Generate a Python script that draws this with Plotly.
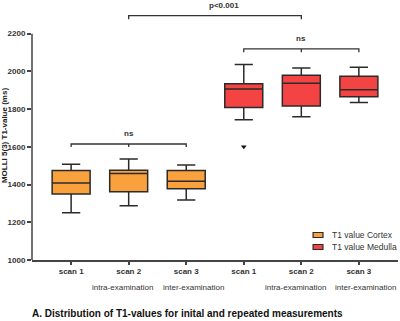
import plotly.graph_objects as go

# ---- data ----
categories = ["scan 1", "scan 2", "scan 3"]
second_row = ["", "intra-examination", "inter-examination"]

cortex_lower = [1250, 1287, 1318]
cortex_q1 = [1350, 1362, 1378]
cortex_median = [1408, 1458, 1417]
cortex_q3 = [1475, 1476, 1474]
cortex_upper = [1508, 1535, 1503]

medulla_lower = [1743, 1760, 1835]
medulla_q1 = [1808, 1817, 1865]
medulla_median = [1907, 1937, 1903]
medulla_q3 = [1934, 1980, 1974]
medulla_upper = [2036, 2018, 2022]

outlier_x = [3]
outlier_y = [1601]

yticks = [1000, 1200, 1400, 1600, 1800, 2000, 2200]
series_names = ["T1 value Cortex", "T1 value Medulla"]

cortex_x = [0, 1, 2]
medulla_x = [3, 4, 5]

ORANGE = "#F9A13D"
RED = "#F44343"
LINE = "#2b2b2b"
FONT = "Arial, Liberation Sans, sans-serif"

fig = go.Figure()
fig.add_trace(go.Box(
    name=series_names[0], x=cortex_x,
    q1=cortex_q1, median=cortex_median, q3=cortex_q3,
    lowerfence=cortex_lower, upperfence=cortex_upper,
    fillcolor=ORANGE, line=dict(color=LINE, width=1.5),
    width=0.66, whiskerwidth=0.48, boxpoints=False, showlegend=False,
))
fig.add_trace(go.Box(
    name=series_names[1], x=medulla_x,
    q1=medulla_q1, median=medulla_median, q3=medulla_q3,
    lowerfence=medulla_lower, upperfence=medulla_upper,
    fillcolor=RED, line=dict(color=LINE, width=1.5),
    width=0.66, whiskerwidth=0.48, boxpoints=False, showlegend=False,
))
fig.add_trace(go.Scatter(
    x=outlier_x, y=outlier_y, mode="markers", showlegend=False,
    marker=dict(symbol="triangle-down", size=5, color="#111111"),
))

# y axis line only up to 2200
fig.add_shape(type="line", xref="paper", yref="y", x0=0, x1=0,
              y0=yticks[0], y1=yticks[-1], line=dict(color="#444444", width=1.5))

# significance brackets
def bracket(xa, xb, y, drop, mid=False):
    fig.add_shape(type="path", xref="x", yref="y",
                  path=f"M {xa},{y-drop} L {xa},{y} L {xb},{y} L {xb},{y-drop}",
                  line=dict(color="#333333", width=1.3))
    if mid:
        xm = (xa + xb) / 2
        fig.add_shape(type="line", xref="x", yref="y", x0=xm, x1=xm,
                      y0=y, y1=y - drop, line=dict(color="#333333", width=1.3))

bracket(1, 4, 2296, 20)
bracket(0, 2, 1615, 16, mid=True)
bracket(3, 5, 2119, 18, mid=True)

fig.add_annotation(x=2.65, y=2296, xref="x", yref="y", text="<b>p<0.001</b>",
                   showarrow=False, yanchor="bottom", yshift=4,
                   font=dict(size=8, color="#333333", family=FONT))
fig.add_annotation(x=1, y=1615, xref="x", yref="y", text="<b>ns</b>",
                   showarrow=False, yanchor="bottom", yshift=4,
                   font=dict(size=8, color="#333333", family=FONT))
fig.add_annotation(x=4, y=2119, xref="x", yref="y", text="<b>ns</b>",
                   showarrow=False, yanchor="bottom", yshift=4,
                   font=dict(size=8, color="#333333", family=FONT))

# second row of x labels
shifts = [0, -6, 7]
for i, lab in enumerate(second_row):
    if lab:
        for xv in (cortex_x[i], medulla_x[i]):
            fig.add_annotation(x=xv, y=0, xref="x", yref="paper", text=lab,
                               showarrow=False, yanchor="middle", yshift=-27,
                               xshift=shifts[i],
                               font=dict(size=8, color="#333333", family=FONT))

# manual legend (small rectangles like the reference)
leg_y = [0.1004, 0.0522]
for name, col, yc in zip(series_names, [ORANGE, RED], leg_y):
    fig.add_shape(type="rect", xref="paper", yref="paper",
                  x0=0.768, x1=0.795, y0=yc - 0.01, y1=yc + 0.01,
                  fillcolor=col, line=dict(color=LINE, width=1.2))
    fig.add_annotation(x=0.815, y=yc, xref="paper", yref="paper", text=name,
                       xanchor="left", yanchor="middle", showarrow=False,
                       font=dict(size=8.5, color="#333333", family=FONT))

fig.add_annotation(x=0.424, y=0, xref="paper", yref="paper", yanchor="middle", yshift=-53,
                   text="<b>A. Distribution of T1-values for inital and repeated measurements</b>",
                   showarrow=False, font=dict(size=10, color="#111111", family=FONT))

fig.update_layout(
    width=400, height=321,
    margin=dict(l=32, r=2, t=11, b=61, autoexpand=False),
    paper_bgcolor="white", plot_bgcolor="white",
    font=dict(family=FONT, size=8, color="#333333"),
    showlegend=False,
    xaxis=dict(range=[-0.68, 5.68], tickmode="array", automargin=False,
               tickvals=cortex_x + medulla_x,
               ticktext=[f"<b>{c}</b>" for c in categories] * 2,
               showline=True, linecolor="#444444", linewidth=1.5,
               ticks="outside", ticklen=3, tickcolor="#444444", tickwidth=1.5,
               showgrid=False, zeroline=False, tickfont=dict(size=8, color="#333333")),
    yaxis=dict(range=[1000, 2320], tickmode="array", tickvals=yticks, automargin=False,
               ticktext=[f"<b>{v}</b>" for v in yticks],
               showline=False, ticks="outside", ticklen=4, tickcolor="#444444",
               tickwidth=1.5, showgrid=False, zeroline=False,
               tickfont=dict(size=8, color="#333333"),
               title=dict(text="<b>MOLLI 5(3) T1-value (ms)</b>", standoff=4,
                          font=dict(size=8, color="#222222"))),
)

fig.write_html("out.html", config={"displayModeBar": False},
               post_script="document.body.style.margin='0';")
